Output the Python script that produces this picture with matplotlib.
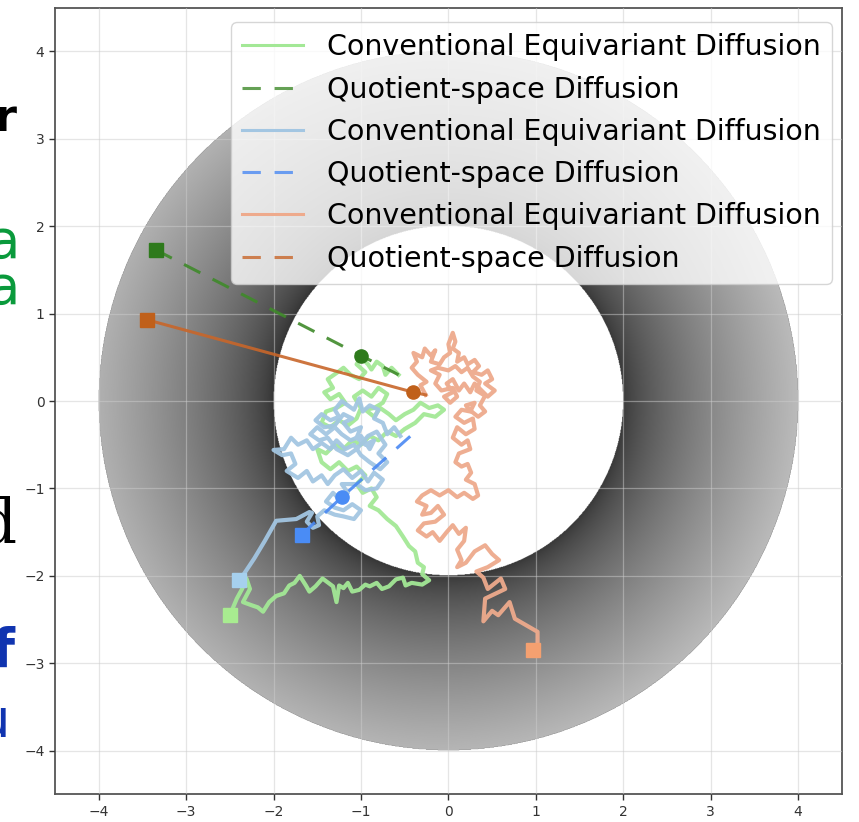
import numpy as np
import matplotlib
matplotlib.use("Agg")
from matplotlib import pyplot as plt
from matplotlib.lines import Line2D

# ---- data (data coordinates) ----
ticks = [-4, -3, -2, -1, 0, 1, 2, 3, 4]
r_inner, r_outer = 2.0, 4.0

# conventional equivariant diffusion walks (light colours)
green_walk = [(-0.57,0.3),(-0.65,0.38),(-0.72,0.3),(-0.75,0.4),(-0.82,0.45),(-0.88,0.36),(-0.92,0.42),(-1.0,0.5),(-1.05,0.42),
    (-0.95,0.33),(-1.02,0.25),(-1.12,0.3),(-1.2,0.38),(-1.28,0.32),(-1.38,0.25),(-1.32,0.15),(-1.42,0.1),(-1.35,0.02),
    (-1.25,0.08),(-1.18,-0.02),(-1.28,-0.08),(-1.4,-0.12),(-1.45,-0.25),(-1.35,-0.3),(-1.25,-0.22),(-1.15,-0.28),(-1.05,-0.2),
    (-1.0,-0.08),(-1.08,0.05),(-0.98,0.12),(-0.88,0.05),(-0.8,0.15),(-0.7,0.08),(-0.75,-0.02),(-0.85,-0.08),
    (-0.95,-0.1),(-0.85,-0.18),(-0.78,-0.08),(-0.68,-0.15),(-0.6,-0.22),(-0.5,-0.15),(-0.4,-0.1),(-0.32,-0.02),(-0.22,-0.08),
    (-0.12,-0.05),(-0.05,-0.1),(-0.15,-0.18),(-0.28,-0.15),(-0.38,-0.25),(-0.5,-0.32),(-0.6,-0.4),(-0.7,-0.35),(-0.8,-0.45),
    (-0.9,-0.4),(-1.0,-0.5),(-1.1,-0.45),(-1.2,-0.55),(-1.3,-0.5),(-1.4,-0.6),(-1.5,-0.55),(-1.45,-0.7),(-1.35,-0.78),
    (-1.25,-0.7),(-1.15,-0.8),(-1.05,-0.75),(-0.95,-0.85),(-1.05,-0.95),(-0.98,-1.05),(-0.88,-1.0),(-0.82,-1.1),(-0.9,-1.2),
    (-0.8,-1.25),(-0.7,-1.35),(-0.6,-1.43),(-0.52,-1.55),(-0.45,-1.66),(-0.38,-1.72),(-0.35,-1.85),(-0.28,-1.9),(-0.3,-1.98),
    (-0.22,-2.05),(-0.3,-2.1),(-0.42,-2.08),(-0.49,-2.11),(-0.52,-2.02),(-0.6,-2.04),(-0.68,-2.12),(-0.76,-2.15),(-0.82,-2.08),
    (-0.9,-2.12),(-0.95,-2.1),(-1.02,-2.16),(-1.1,-2.18),(-1.15,-2.08),(-1.2,-2.14),(-1.25,-2.11),(-1.28,-2.3),(-1.32,-2.12),
    (-1.44,-2.03),(-1.52,-2.12),(-1.59,-2.18),(-1.63,-2.11),(-1.7,-2.0),(-1.76,-2.08),(-1.82,-2.11),(-1.88,-2.2),(-1.97,-2.23),
    (-2.05,-2.3),(-2.12,-2.41),(-2.18,-2.36),(-2.24,-2.34),(-2.35,-2.3),(-2.27,-2.15),(-2.31,-2.03),(-2.36,-2.15),
    (-2.42,-2.26),(-2.5,-2.45)]

blue_walk = [(-0.55,-0.4),(-0.62,-0.3),(-0.7,-0.38),(-0.75,-0.25),(-0.85,-0.2),(-0.8,-0.1),(-0.9,-0.05),(-0.98,-0.12),
    (-1.02,0.03),(-1.08,-0.1),(-1.15,-0.05),(-1.22,0.0),(-1.3,-0.1),(-1.25,-0.18),(-1.35,-0.22),(-1.45,-0.15),(-1.52,-0.22),
    (-1.42,-0.3),(-1.3,-0.28),(-1.2,-0.15),(-1.1,-0.2),(-1.2,-0.25),(-1.12,-0.35),(-1.0,-0.3),(-1.05,-0.42),(-0.95,-0.5),
    (-0.85,-0.45),(-0.9,-0.55),(-1.0,-0.4),(-1.12,-0.45),(-1.22,-0.38),(-1.3,-0.3),(-1.4,-0.38),(-1.5,-0.3),(-1.58,-0.38),
    (-1.48,-0.45),(-1.38,-0.42),(-1.28,-0.55),(-1.15,-0.62),(-1.05,-0.55),(-0.92,-0.4),(-0.82,-0.35),
    (-0.72,-0.5),(-0.8,-0.6),(-0.7,-0.7),(-0.78,-0.78),(-0.9,-0.7),(-1.0,-0.62),(-1.08,-0.5),(-1.18,-0.55),(-1.28,-0.45),
    (-1.35,-0.55),(-1.45,-0.48),(-1.55,-0.55),(-1.62,-0.45),(-1.72,-0.5),(-1.8,-0.42),(-1.88,-0.55),(-2.0,-0.56),(-1.9,-0.62),
    (-1.8,-0.6),(-1.75,-0.72),(-1.85,-0.8),(-1.72,-0.88),(-1.62,-0.8),(-1.55,-0.92),(-1.45,-0.85),(-1.38,-0.95),(-1.3,-0.85),
    (-1.2,-0.78),(-1.1,-0.88),(-1.0,-0.8),(-0.92,-0.92),(-0.85,-0.82),(-0.75,-0.9),(-0.82,-1.0),(-0.95,-1.02),(-1.05,-0.95),
    (-1.22,-0.95),(-1.15,-1.05),(-1.25,-1.12),(-1.32,-1.05),(-1.4,-1.15),(-1.3,-1.22),(-1.2,-1.25),(-1.1,-1.18),(-1.0,-1.25),
    (-1.08,-1.35),(-1.2,-1.32),(-1.3,-1.3),(-1.42,-1.25),(-1.5,-1.32),(-1.48,-1.42),(-1.55,-1.45),(-1.62,-1.38),(-1.56,-1.28),
    (-1.59,-1.27),(-1.74,-1.35),(-1.97,-1.37),(-2.1,-1.6),(-2.22,-1.8),(-2.36,-2.01),(-2.4,-2.05)]

orange_walk = [(-0.26,0.07),(-0.32,0.18),(-0.25,0.22),(-0.35,0.3),(-0.42,0.38),(-0.36,0.45),(-0.4,0.55),(-0.3,0.5),
    (-0.27,0.6),(-0.2,0.52),(-0.15,0.58),(-0.2,0.45),(-0.1,0.42),(-0.05,0.5),(0.02,0.55),(0.0,0.65),(0.05,0.78),(0.08,0.68),
    (0.05,0.6),(0.12,0.55),(0.1,0.45),(0.18,0.5),(0.22,0.42),(0.3,0.47),(0.35,0.4),(0.28,0.33),(0.38,0.3),(0.45,0.35),
    (0.5,0.25),(0.42,0.2),(0.53,0.12),(0.45,0.05),(0.38,0.12),(0.3,0.2),(0.25,0.1),(0.18,0.2),(0.12,0.12),(0.05,0.25),
    (-0.02,0.2),(0.05,0.1),(-0.05,0.05),(0.02,-0.02),(0.1,0.05),(0.05,0.15),(-0.08,0.12),(-0.15,0.2),(-0.1,0.3),
    (-0.2,0.35),(-0.12,0.38),(0.0,0.35),(0.08,0.4),(0.15,0.33),(0.22,0.38),(0.28,0.28),(0.36,0.22),(0.32,0.12),
    (0.42,0.06),(0.36,-0.05),(0.42,-0.12),(0.34,-0.18),(0.24,-0.1),(0.2,-0.05),(0.3,-0.02),(0.25,-0.12),(0.15,-0.1),
    (0.08,-0.18),(0.18,-0.25),(0.28,-0.2),(0.3,-0.32),(0.2,-0.38),(0.1,-0.3),(0.05,-0.42),(0.15,-0.5),(0.22,-0.45),
    (0.25,-0.55),(0.12,-0.6),(0.08,-0.7),(0.15,-0.75),(0.22,-0.72),(0.26,-0.82),(0.2,-0.9),(0.3,-0.95),(0.34,-1.08),
    (0.28,-1.12),(0.18,-1.05),(0.1,-1.1),(0.0,-1.02),(-0.1,-1.08),(-0.2,-1.02),(-0.3,-1.08),(-0.36,-1.15),(-0.25,-1.2),
    (-0.3,-1.3),(-0.2,-1.28),(-0.12,-1.2),(-0.05,-1.3),(-0.15,-1.38),(-0.28,-1.4),(-0.35,-1.48),(-0.25,-1.55),(-0.18,-1.5),
    (-0.1,-1.6),(-0.02,-1.5),(0.05,-1.42),(0.12,-1.52),(0.2,-1.45),(0.18,-1.6),(0.1,-1.7),(0.15,-1.82),(0.1,-1.9),
    (0.2,-1.85),(0.3,-1.72),(0.42,-1.65),(0.5,-1.75),(0.58,-1.82),(0.45,-1.9),(0.32,-1.95),(0.4,-2.02),(0.45,-2.15),
    (0.6,-2.03),(0.65,-2.15),(0.42,-2.26),(0.4,-2.52),(0.5,-2.4),(0.57,-2.45),(0.7,-2.3),(0.76,-2.49),(1.02,-2.64),
    (1.02,-2.8),(0.97,-2.85)]

# quotient-space diffusion: (square start, circle, end)
green_quot = [(-3.35,1.73),(-1.0,0.52),(-0.57,0.3)]
blue_quot = [(-1.68,-1.53),(-1.22,-1.1),(-0.32,-0.3)]
orange_quot = [(-3.45,0.93),(-0.4,0.1),(-0.26,0.07)]

labels = ["Conventional Equivariant Diffusion", "Quotient-space Diffusion"] * 3

light = {"green": "#a3e896", "blue": "#a3c6e2", "orange": "#eeaa8c"}
light_sq = {"green": "#a8ec90", "blue": "#a6d0ee", "orange": "#f4a070"}
dark = {"green": "#3f8a2a", "blue": "#4a89f3", "orange": "#c8662a"}
dark_pt = {"green": "#2e7a1c", "blue": "#4a8cf5", "orange": "#c0601a"}

fig = plt.figure(figsize=(8.59, 8.22), dpi=100)
ax = fig.add_axes([0.064, 0.0304, 0.916, 0.9635])

# shaded annulus
g = np.linspace(-4.5, 4.5, 1400)
X, Y = np.meshgrid(g, g)
R = np.hypot(X, Y)
t = np.clip((R - r_inner) / (r_outer - r_inner), 0, 1)
shade = 0.21 + 0.5 * t ** 0.7 + 0.02 * X / 4
shade = np.ma.masked_where((R < r_inner) | (R > r_outer), shade)
cmap = plt.get_cmap("gray").copy()
cmap.set_bad(alpha=0)
ax.imshow(shade, extent=(-4.5, 4.5, -4.5, 4.5), origin="lower", cmap=cmap,
          vmin=0, vmax=1, zorder=1, interpolation="antialiased")

ax.grid(True, color="#cccccc", alpha=0.5, lw=0.9, zorder=1.5)
ax.set_axisbelow(False)

walks = {"green": green_walk, "blue": blue_walk, "orange": orange_walk}
quots = {"green": green_quot, "blue": blue_quot, "orange": orange_quot}
dash = (0, (6, 4.5))

for c in ["green", "blue", "orange"]:
    w = np.array(walks[c])
    ax.plot(w[:, 0], w[:, 1], color=light[c], lw=3.0, alpha=0.95, zorder=3)
    ax.plot(w[-1, 0], w[-1, 1], "s", color=light_sq[c], ms=10, zorder=5)

for c in ["green", "blue", "orange"]:
    q = np.array(quots[c])
    ls = "-" if c == "orange" else dash
    ax.plot(q[:, 0], q[:, 1], color=dark[c], lw=2.2, ls=ls, alpha=0.9, zorder=4)
    ax.plot(q[0, 0], q[0, 1], "s", color=dark_pt[c], ms=10, zorder=5)
    ax.plot(q[1, 0], q[1, 1], "o", color=dark_pt[c], ms=9.5, zorder=5)

handles = []
for c in ["green", "blue", "orange"]:
    handles.append(Line2D([], [], color=light[c], lw=2.2))
    handles.append(Line2D([], [], color=dark[c], lw=2.2, ls=dash, alpha=0.8))
ax.legend(handles, labels, loc="upper right", fontsize=20.5, handlelength=2.13,
          handletextpad=0.84, labelspacing=0.5, borderaxespad=0,
          bbox_to_anchor=(832 / 859, 1 - 22 / 822), bbox_transform=fig.transFigure,
          framealpha=0.8, edgecolor="#cccccc")

ax.set_xlim(-4.5, 4.5)
ax.set_ylim(-4.5, 4.5)
ax.set_xticks(ticks)
ax.set_yticks(ticks)
ax.tick_params(labelsize=10, colors="#333333", length=4, width=1)
for s in ax.spines.values():
    s.set_color("#555555")
    s.set_linewidth(1.3)

# clipped slide text at the left edge
fig.text(16 / 859, 1 - 131 / 822, "r", ha="right", fontsize=32, fontweight="bold", color="black")
fig.text(20 / 859, 1 - 258 / 822, "a", ha="right", fontsize=38, color="#0a9a3c")
fig.text(20 / 859, 1 - 304 / 822, "a", ha="right", fontsize=38, color="#0a9a3c")
fig.text(17 / 859, 1 - 543 / 822, "d", ha="right", fontsize=44, color="black", family="DejaVu Serif")
fig.text(15 / 859, 1 - 667 / 822, "f", ha="right", fontsize=38, fontweight="bold", color="#1034b0")
fig.text(10 / 859, 1 - 737 / 822, "u", ha="right", fontsize=38, color="#1034b0")

fig.savefig("out.png", dpi=100)
